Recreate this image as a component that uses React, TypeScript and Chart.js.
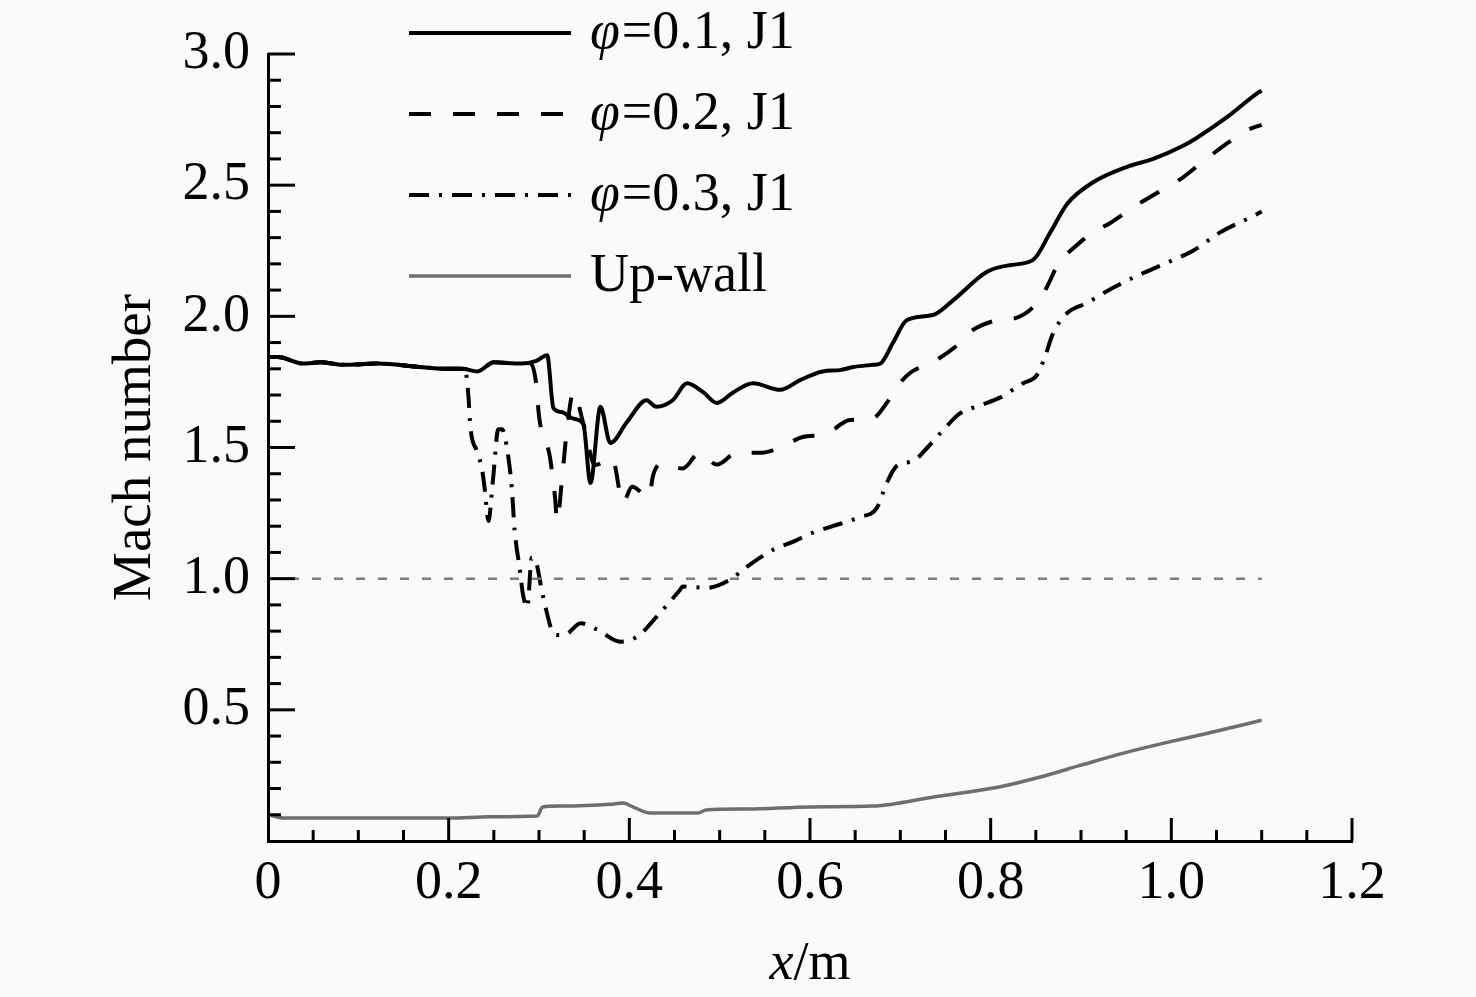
import { useEffect, useRef } from "react"
import { Chart, registerables, type Plugin } from "chart.js"

Chart.register(...registerables)

const SERIF = "'Liberation Serif', 'DejaVu Serif', serif"

// φ=0.1, J1 (solid)
const phi01X = [0.002, 0.011, 0.039, 0.058, 0.083, 0.121, 0.168, 0.199, 0.215, 0.232, 0.25, 0.28, 0.297, 0.309, 0.316, 0.325, 0.338, 0.349, 0.357, 0.368, 0.379, 0.397, 0.419, 0.43, 0.448, 0.464, 0.482, 0.497, 0.515, 0.537, 0.567, 0.589, 0.614, 0.633, 0.648, 0.67, 0.678, 0.692, 0.707, 0.736, 0.758, 0.796, 0.821, 0.847, 0.866, 0.885, 0.913, 0.951, 0.98, 1.013, 1.028, 1.062, 1.095, 1.1]
const phi01Y = [1.845, 1.845, 1.82, 1.825, 1.815, 1.82, 1.807, 1.8, 1.8, 1.79, 1.825, 1.82, 1.83, 1.852, 1.65, 1.635, 1.61, 1.59, 1.365, 1.655, 1.517, 1.595, 1.68, 1.655, 1.68, 1.745, 1.71, 1.67, 1.71, 1.745, 1.72, 1.757, 1.79, 1.795, 1.807, 1.815, 1.82, 1.9, 1.985, 2.005, 2.06, 2.17, 2.195, 2.215, 2.32, 2.43, 2.51, 2.57, 2.6, 2.65, 2.68, 2.76, 2.85, 2.86]

// φ=0.2, J1 (dashed)
const phi02X = [0.002, 0.011, 0.039, 0.058, 0.083, 0.121, 0.168, 0.199, 0.215, 0.232, 0.25, 0.28, 0.291, 0.297, 0.3, 0.312, 0.318, 0.32, 0.326, 0.331, 0.338, 0.35, 0.362, 0.381, 0.393, 0.403, 0.422, 0.426, 0.437, 0.459, 0.478, 0.497, 0.519, 0.545, 0.567, 0.592, 0.617, 0.644, 0.669, 0.685, 0.696, 0.711, 0.733, 0.763, 0.777, 0.807, 0.829, 0.851, 0.862, 0.877, 0.885, 0.913, 0.932, 0.962, 0.984, 1.013, 1.035, 1.062, 1.084, 1.1]
const phi02Y = [1.845, 1.845, 1.82, 1.825, 1.815, 1.82, 1.807, 1.8, 1.8, 1.79, 1.825, 1.82, 1.82, 1.74, 1.62, 1.465, 1.3, 1.22, 1.4, 1.57, 1.71, 1.58, 1.433, 1.46, 1.29, 1.35, 1.31, 1.39, 1.44, 1.42, 1.48, 1.435, 1.48, 1.48, 1.5, 1.54, 1.55, 1.605, 1.61, 1.67, 1.73, 1.785, 1.82, 1.89, 1.94, 1.985, 1.995, 2.05, 2.11, 2.215, 2.24, 2.32, 2.355, 2.425, 2.47, 2.53, 2.59, 2.66, 2.71, 2.73]

// φ=0.3, J1 (dash-dot)
const phi03X = [0.002, 0.011, 0.039, 0.058, 0.083, 0.121, 0.168, 0.199, 0.215, 0.219, 0.222, 0.224, 0.232, 0.237, 0.24, 0.244, 0.249, 0.255, 0.259, 0.266, 0.27, 0.273, 0.279, 0.282, 0.287, 0.292, 0.297, 0.303, 0.308, 0.314, 0.32, 0.331, 0.346, 0.365, 0.39, 0.409, 0.434, 0.456, 0.459, 0.486, 0.511, 0.53, 0.559, 0.581, 0.603, 0.625, 0.655, 0.674, 0.685, 0.696, 0.715, 0.73, 0.751, 0.766, 0.788, 0.81, 0.836, 0.851, 0.86, 0.869, 0.884, 0.906, 0.936, 0.969, 0.999, 1.024, 1.054, 1.095, 1.1]
const phi03Y = [1.845, 1.845, 1.82, 1.825, 1.815, 1.82, 1.807, 1.8, 1.8, 1.785, 1.69, 1.58, 1.48, 1.415, 1.34, 1.22, 1.375, 1.57, 1.57, 1.465, 1.34, 1.185, 1.03, 0.945, 0.89, 1.08, 1.06, 0.957, 0.88, 0.805, 0.785, 0.79, 0.83, 0.805, 0.76, 0.78, 0.87, 0.957, 0.97, 0.965, 0.995, 1.045, 1.11, 1.14, 1.175, 1.2, 1.235, 1.27, 1.365, 1.43, 1.45, 1.5, 1.58, 1.63, 1.66, 1.69, 1.745, 1.775, 1.845, 1.935, 2.01, 2.05, 2.11, 2.165, 2.21, 2.25, 2.32, 2.39, 2.4]

// Up-wall (grey)
const wallX = [0.002, 0.017, 0.202, 0.246, 0.298, 0.304, 0.323, 0.379, 0.393, 0.404, 0.423, 0.476, 0.485, 0.531, 0.601, 0.67, 0.74, 0.808, 0.855, 0.901, 0.947, 0.993, 1.039, 1.1]
const wallY = [0.099, 0.088, 0.088, 0.092, 0.095, 0.13, 0.133, 0.14, 0.145, 0.13, 0.107, 0.107, 0.118, 0.122, 0.13, 0.133, 0.17, 0.205, 0.244, 0.29, 0.335, 0.374, 0.41, 0.46]

// sonic line M = 1
const sonicX = [0, 1.1]
const sonicY = [1.0, 1.0]

const xTickValues = [0, 0.2, 0.4, 0.6, 0.8, 1.0, 1.2]
const xTickLabels = ["0", "0.2", "0.4", "0.6", "0.8", "1.0", "1.2"]
const yTickValues = [0, 0.5, 1.0, 1.5, 2.0, 2.5, 3.0]
const yTickLabels = ["", "0.5", "1.0", "1.5", "2.0", "2.5", "3.0"]

const toPoints = (xs: number[], ys: number[]) => xs.map((x, i) => ({ x, y: ys[i] }))

// inward ticks, legend and axis titles
const decorPlugin: Plugin<"line"> = {
  id: "decor",
  afterDraw(chart) {
    const { ctx, chartArea } = chart
    const xs = chart.scales.x
    const ys = chart.scales.y
    ctx.save()
    ctx.strokeStyle = "#000"
    ctx.lineWidth = 3
    ctx.setLineDash([])
    for (let i = 1; i <= 30; i++) {
      const py = ys.getPixelForValue(i / 10)
      const len = i % 5 === 0 ? 27 : 13
      ctx.beginPath()
      ctx.moveTo(chartArea.left, py)
      ctx.lineTo(chartArea.left + len, py)
      ctx.stroke()
    }
    for (let i = 1; i <= 24; i++) {
      const px = xs.getPixelForValue(i * 0.05)
      const len = i % 4 === 0 ? 23 : 11
      ctx.beginPath()
      ctx.moveTo(px, chartArea.bottom)
      ctx.lineTo(px, chartArea.bottom - len)
      ctx.stroke()
    }

    // legend
    const items = chart.data.datasets.filter((d) => d.label)
    items.forEach((ds: any, i) => {
      const ly = 33 + i * 81
      ctx.strokeStyle = ds.borderColor
      ctx.lineWidth = ds.borderWidth
      ctx.setLineDash(ds.borderDash || [])
      ctx.beginPath()
      ctx.moveTo(409, ly)
      ctx.lineTo(571, ly)
      ctx.stroke()
      ctx.setLineDash([])
      ctx.fillStyle = "#000"
      ctx.textBaseline = "alphabetic"
      ctx.textAlign = "left"
      let tx = 590
      const label: string = ds.label
      if (label.startsWith("φ")) {
        ctx.font = `italic 54px ${SERIF}`
        ctx.fillText("φ", tx, ly + 15)
        tx += ctx.measureText("φ").width + 2
        ctx.font = `54px ${SERIF}`
        ctx.fillText(label.slice(1), tx, ly + 15)
      } else {
        ctx.font = `54px ${SERIF}`
        ctx.fillText(label, tx, ly + 15)
      }
    })

    // y title
    ctx.fillStyle = "#000"
    ctx.font = `55px ${SERIF}`
    ctx.save()
    ctx.translate(chartArea.left - 118, (chartArea.top + chartArea.bottom) / 2)
    ctx.rotate(-Math.PI / 2)
    ctx.textAlign = "center"
    ctx.textBaseline = "alphabetic"
    ctx.fillText("Mach number", 0, 0)
    ctx.restore()

    // x title: x/m
    const cx = (chartArea.left + chartArea.right) / 2
    ctx.font = `italic 54px ${SERIF}`
    const wx = ctx.measureText("x").width
    ctx.font = `54px ${SERIF}`
    const wr = ctx.measureText("/m").width
    const start = cx - (wx + wr) / 2
    ctx.textAlign = "left"
    ctx.textBaseline = "alphabetic"
    ctx.font = `italic 54px ${SERIF}`
    ctx.fillText("x", start, chartArea.bottom + 138)
    ctx.font = `54px ${SERIF}`
    ctx.fillText("/m", start + wx, chartArea.bottom + 138)
    ctx.restore()
  },
}

export default function App() {
  const canvasRef = useRef<HTMLCanvasElement | null>(null)
  const chartRef = useRef<Chart<"line"> | null>(null)

  useEffect(() => {
    if (!canvasRef.current) return
    if (chartRef.current) chartRef.current.destroy()

    chartRef.current = new Chart(canvasRef.current, {
      type: "line",
      data: {
        datasets: [
          {
            label: "",
            data: toPoints(sonicX, sonicY),
            borderColor: "#7a7a7a",
            borderWidth: 2.5,
            borderDash: [9, 13],
          },
          {
            label: "φ=0.1, J1",
            data: toPoints(phi01X, phi01Y),
            borderColor: "#000",
            borderWidth: 4,
          },
          {
            label: "φ=0.2, J1",
            data: toPoints(phi02X, phi02Y),
            borderColor: "#000",
            borderWidth: 4,
            borderDash: [22, 22],
          },
          {
            label: "φ=0.3, J1",
            data: toPoints(phi03X, phi03Y),
            borderColor: "#000",
            borderWidth: 4,
            borderDash: [20, 10, 3, 10],
          },
          {
            label: "Up-wall",
            data: toPoints(wallX, wallY),
            borderColor: "#6e6e6e",
            borderWidth: 3.5,
          },
        ],
      },
      options: {
        animation: false,
        responsive: true,
        maintainAspectRatio: false,
        devicePixelRatio: 1,
        layout: { padding: { top: 54, right: 124, left: 0, bottom: 0 } },
        elements: {
          point: { radius: 0 },
          line: { cubicInterpolationMode: "monotone", borderJoinStyle: "round" },
        },
        plugins: { legend: { display: false }, tooltip: { enabled: false } },
        scales: {
          x: {
            type: "linear",
            min: 0,
            max: 1.2,
            afterFit: (s) => {
              s.height = 156
            },
            afterBuildTicks: (s) => {
              s.ticks = xTickValues.map((v) => ({ value: v }))
            },
            grid: { display: false, drawTicks: false, drawOnChartArea: false },
            border: { display: true, color: "#000", width: 3 },
            ticks: {
              padding: 10,
              color: "#000",
              font: { family: SERIF, size: 54 },
              maxRotation: 0,
              autoSkip: false,
              callback: (_v, i) => xTickLabels[i],
            },
          },
          y: {
            type: "linear",
            min: 0,
            max: 3,
            afterFit: (s) => {
              s.width = 268
            },
            afterBuildTicks: (s) => {
              s.ticks = yTickValues.map((v) => ({ value: v }))
            },
            grid: { display: false, drawTicks: false, drawOnChartArea: false },
            border: { display: true, color: "#000", width: 3 },
            ticks: {
              padding: 18,
              color: "#000",
              font: { family: SERIF, size: 54 },
              autoSkip: false,
              callback: (_v, i) => yTickLabels[i],
            },
          },
        },
      },
      plugins: [decorPlugin],
    })

    return () => {
      chartRef.current?.destroy()
      chartRef.current = null
    }
  }, [])

  return (
    <div
      style={{
        position: "absolute",
        left: 0,
        top: 0,
        width: 1476,
        height: 997,
        background: "#fafafa",
      }}
    >
      <canvas ref={canvasRef} />
    </div>
  )
}
